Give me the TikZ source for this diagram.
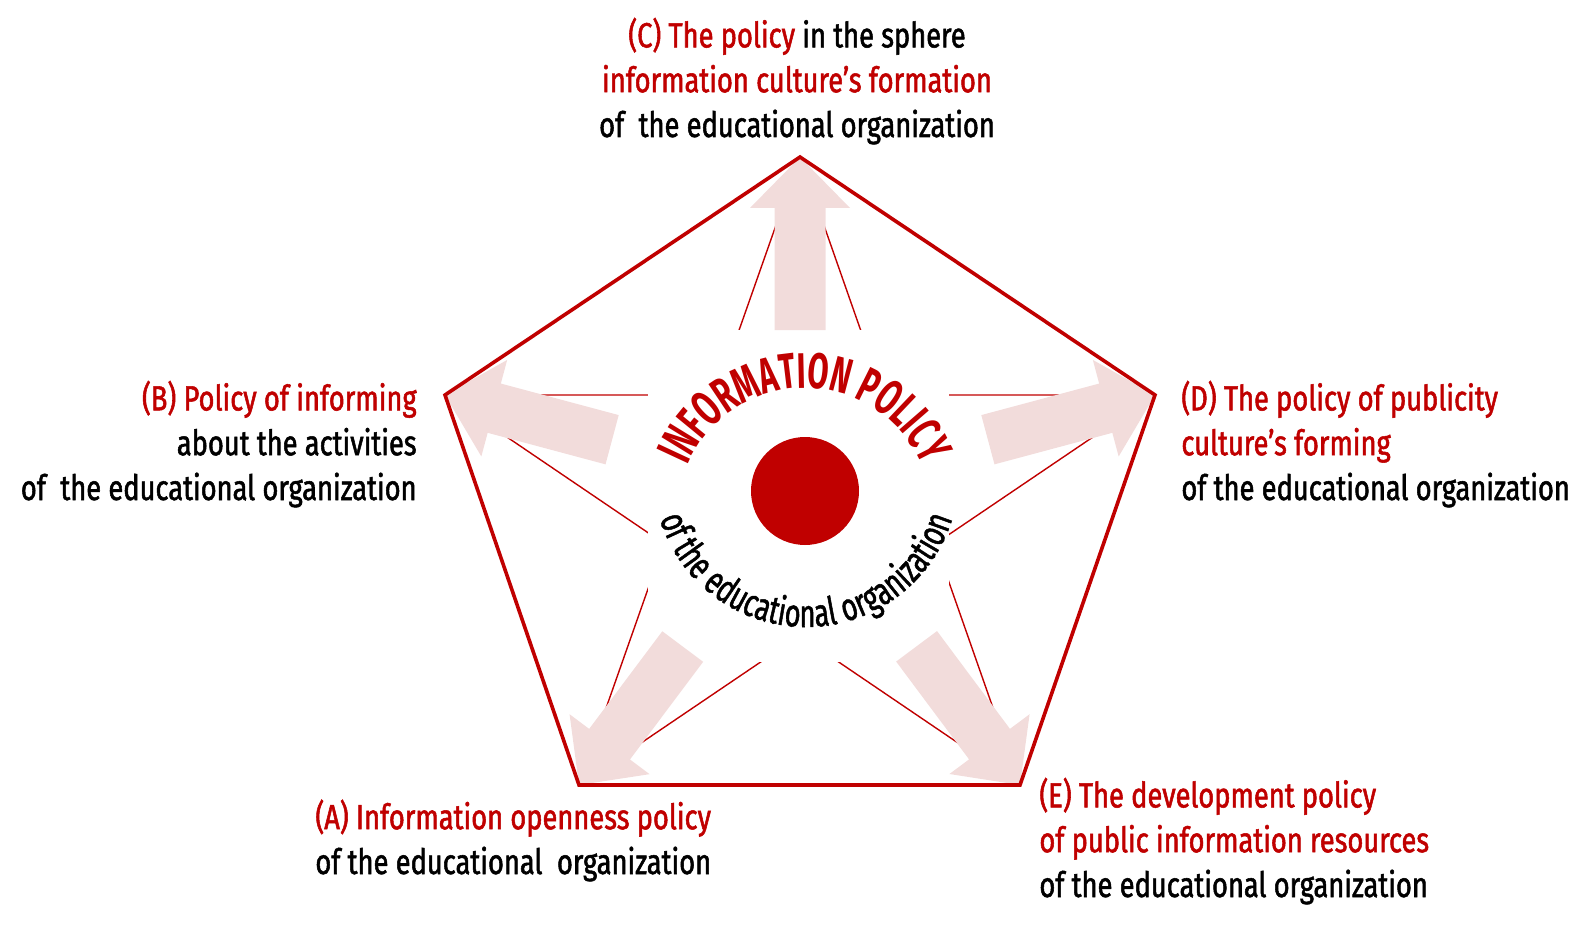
\documentclass[tikz,border=0pt]{standalone}
\usepackage{fontspec}
\setmainfont{Fira Sans}[FakeStretch=0.78, FakeBold=1.5]
\newfontfamily\titlefont{Fira Sans}[FakeStretch=0.61]
\newfontfamily\arcfont{Fira Sans}[FakeStretch=0.7, FakeBold=1.2]
\usepackage{xcolor}
\usepackage{tikz}
\usetikzlibrary{calc,decorations.text}
\definecolor{infored}{HTML}{C00000}
\definecolor{arrowpink}{HTML}{F2DCDB}
\newcommand{\Red}[1]{\textcolor{infored}{#1}}

\begin{document}
\begin{tikzpicture}[x=0.5pt, y=0.5pt,
    policytext/.style={inner sep=0, font=\fontsize{17.5}{22.4}\selectfont},
    blockarrow/.style={fill=arrowpink}]
  \useasboundingbox (0,0) rectangle (1592,-931);

  \coordinate (O) at (800,-490);
  \coordinate (C) at (800,-157);
  \coordinate (B) at (445,-395);
  \coordinate (D) at (1155,-395);
  \coordinate (A) at (579,-785);
  \coordinate (E) at (1020,-785);

  % star lines
  \draw[infored, line width=0.7pt]
    (C) -- (A) (C) -- (E) (B) -- (D) (B) -- (E) (D) -- (A);

  \fill[white] (648,-330) rectangle (949,-662);

  % arrows
  \foreach \v in {A,B,C,D,E} {
    \path ($(\v)!25.5pt!(O)$) coordinate (h)
          ($(\v)!86.5pt!(O)$) coordinate (s);
    \fill[blockarrow] ($(s)!12.75pt!90:(\v)$) -- ($(h)!12.75pt!90:(\v)$)
      -- ($(h)!25pt!90:(\v)$) -- (\v) -- ($(h)!25pt!-90:(\v)$)
      -- ($(h)!12.75pt!-90:(\v)$) -- ($(s)!12.75pt!-90:(\v)$) -- cycle;
  }

  \draw[infored, line width=1.8pt, line join=miter]
    (C) -- (D) -- (E) -- (A) -- (B) -- cycle;

  \fill[infored] (805,-491) circle[radius=54];

  \path[decorate, decoration={text along path, text align=center,
      text={|\titlefont\fontsize{25}{25}\selectfont\bfseries\color{infored}|INFORMATION POLICY}}]
    (805,-516) ++(178:128) arc[start angle=178, end angle=2, radius=128];
  \path[decorate, decoration={text along path, text align=center,
      text={|\arcfont\fontsize{19.5}{19.5}\selectfont|of the educational organization}}]
    (806,-474) ++(182:153) arc[start angle=182, end angle=358, radius=153];

  \node[policytext, align=center, anchor=base] (polC) at (797,-137)
    {\Red{(C) The policy} in the sphere\\
     \Red{information culture’s formation}\\
     of\ \ the educational organization};
  \node[policytext, align=right, anchor=base east] (polB) at (417,-500)
    {\Red{(B) Policy of informing}\\
     about the activities\\
     of\ \ the educational organization};
  \node[policytext, align=left, anchor=base west] (polD) at (1181,-500)
    {\Red{(D) The policy of publicity}\\
     \Red{culture’s forming}\\
     of the educational organization};
  \node[policytext, align=left, anchor=base west] (polA) at (315,-874)
    {\Red{(A) Information openness policy}\\
     of the educational\ \ organization};
  \node[policytext, align=left, anchor=base west] (polE) at (1039,-897)
    {\Red{(E) The development policy}\\
     \Red{of public information resources}\\
     of the educational organization};
\end{tikzpicture}
\end{document}
